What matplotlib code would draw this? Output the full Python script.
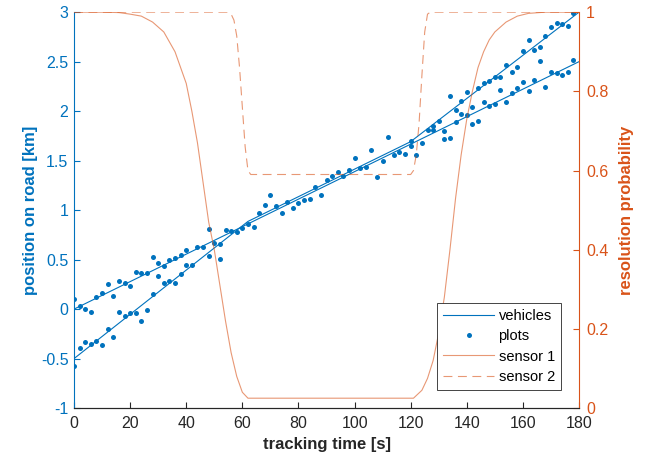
import matplotlib
matplotlib.use("Agg")
import matplotlib.pyplot as plt
import numpy as np

plt.rcParams['font.family'] = ['Liberation Sans', 'DejaVu Sans']

BLUE = '#0072BD'
ORANGE = '#D95319'
GREY = '#262626'

# vehicle tracks (km)
veh1_t = [0, 180]
veh1_y = [0.0, 2.5]
veh2_t = [0, 62, 120, 180]
veh2_y = [-0.5, 0.886, 1.692, 3.0]

# sensor plots (measurements)
plot_t = [0, 0, 2, 2, 4, 4, 6, 6, 8, 8, 10, 10, 12, 12, 14, 14, 16, 16, 18, 18,
          20, 20, 22, 22, 24, 24, 26, 26, 28, 28, 30, 30, 32, 32, 34, 34, 36, 36,
          38, 38, 40, 40, 42, 44, 46, 48, 48, 50, 52, 52, 54, 56, 58, 60, 62, 64,
          66, 68, 70, 72, 74, 76, 78, 80, 82, 84, 86, 88, 90, 92, 94, 96, 98, 100,
          102, 104, 106, 108, 110, 112, 114, 116, 118, 120, 120, 122, 124, 126,
          128, 128, 130, 132, 132, 134, 134, 136, 136, 138, 138, 140, 140, 142, 142,
          144, 144, 146, 146, 148, 148, 150, 150, 152, 152, 154, 154, 156, 156,
          158, 158, 160, 160, 162, 162, 164, 164, 166, 166, 168, 168, 170, 170,
          172, 172, 174, 174, 176, 176, 178, 178]
plot_y = [0.10, -0.57, 0.03, -0.39, 0.00, -0.33, -0.03, -0.35, 0.12, -0.32,
          0.16, -0.36, 0.25, -0.20, 0.135, -0.28, 0.28, -0.03, 0.26, -0.07,
          0.23, -0.04, 0.37, -0.04, 0.36, -0.12, 0.36, -0.01, 0.53, 0.15,
          0.47, 0.33, 0.44, 0.26, 0.50, 0.28, 0.52, 0.26, 0.55, 0.35, 0.60, 0.45,
          0.45, 0.63, 0.63, 0.81, 0.54, 0.67, 0.66, 0.51, 0.80, 0.79, 0.78, 0.82,
          0.86, 0.83, 0.97, 1.05, 1.15, 1.04, 0.97, 1.08, 1.02, 1.07, 1.10, 1.11,
          1.23, 1.15, 1.30, 1.34, 1.39, 1.34, 1.41, 1.53, 1.43, 1.44, 1.61, 1.33,
          1.50, 1.74, 1.56, 1.59, 1.57, 1.70, 1.65, 1.56, 1.68, 1.81,
          1.85, 1.81, 1.90, 1.80, 1.72, 2.15, 1.73, 2.01, 1.89, 2.10, 1.97,
          2.19, 1.96, 2.04, 1.87, 2.23, 1.90, 2.28, 2.09, 2.30, 2.05, 2.34, 2.07,
          2.34, 2.21, 2.47, 2.09, 2.40, 2.18, 2.45, 2.23, 2.61, 2.29, 2.72, 2.20,
          2.62, 2.31, 2.65, 2.51, 2.76, 2.24, 2.85, 2.40, 2.89, 2.39, 2.88, 2.37,
          2.86, 2.40, 2.99, 2.52]

# resolution probabilities
s1_t = [0, 10, 16, 20, 24, 28, 32, 36, 40, 42, 44, 46, 48, 50, 52, 54, 56, 58,
        60, 62, 121, 124, 126, 128, 130, 132, 134, 136, 138, 140, 142, 144, 146,
        148, 150, 154, 158, 162, 168, 180]
s1_p = [1.0, 1.0, 0.999, 0.995, 0.99, 0.975, 0.95, 0.90, 0.82, 0.75, 0.67,
        0.57, 0.47, 0.40, 0.31, 0.22, 0.14, 0.08, 0.04, 0.025, 0.025, 0.045,
        0.075, 0.12, 0.19, 0.28, 0.40, 0.53, 0.64, 0.73, 0.80, 0.86, 0.90,
        0.93, 0.95, 0.975, 0.99, 0.997, 1.0, 1.0]
s2_t = [0, 55, 56, 57, 58, 59, 60, 61, 62, 63, 120, 121, 122, 123, 124, 125,
        126, 127, 180]
s2_p = [1.0, 1.0, 0.995, 0.98, 0.94, 0.86, 0.76, 0.66, 0.60, 0.59, 0.59, 0.60,
        0.64, 0.72, 0.84, 0.95, 0.995, 1.0, 1.0]

fig = plt.figure(figsize=(6.51, 4.68), dpi=100)
ax = fig.add_axes([0.1137, 0.128, 0.7757, 0.846])
ax2 = ax.twinx()

h1, = ax.plot(veh1_t, veh1_y, color=BLUE, lw=0.8, label='vehicles')
ax.plot(veh2_t, veh2_y, color=BLUE, lw=0.8)
h2, = ax.plot(plot_t, plot_y, 'o', color=BLUE, ms=3.6, mew=0, label='plots')

h3, = ax2.plot(s1_t, s1_p, color=ORANGE, lw=0.8, alpha=0.6, label='sensor 1')
h4, = ax2.plot(s2_t, s2_p, color=ORANGE, lw=0.8, alpha=0.6, dashes=(8, 5),
               label='sensor 2')

ax.set_xlim(0, 180)
ax.set_ylim(-1, 3)
ax2.set_ylim(0, 1)
ax.set_xticks(np.arange(0, 181, 20))
ax.set_yticks(np.arange(-1, 3.01, 0.5))
ax.set_yticklabels(['-1', '-0.5', '0', '0.5', '1', '1.5', '2', '2.5', '3'])
ax2.set_yticks(np.arange(0, 1.01, 0.2))
ax2.set_yticklabels(['0', '0.2', '0.4', '0.6', '0.8', '1'])

ax.tick_params(axis='x', direction='in', length=4, colors=GREY, labelsize=11.5, pad=6)
ax.tick_params(axis='y', direction='in', length=4, colors=BLUE, labelsize=11.5, pad=4)
ax2.tick_params(axis='y', direction='in', length=4, colors=ORANGE, labelsize=11.5, pad=5)

for a in (ax, ax2):
    a.spines['top'].set_visible(False)
    a.spines['bottom'].set_color(GREY)
ax.spines['left'].set_color(BLUE)
ax.spines['right'].set_visible(False)
ax2.spines['left'].set_visible(False)
ax2.spines['right'].set_color(ORANGE)

ax.set_xlabel('tracking time [s]', fontsize=12, fontweight='bold', color=GREY)
ax.set_ylabel('position on road [km]', fontsize=12, fontweight='bold', color=BLUE,
              labelpad=2)
ax2.set_ylabel('resolution probability', fontsize=12, fontweight='bold', color=ORANGE,
               labelpad=8)

leg = ax2.legend([h1, h2, h3, h4], ['vehicles', 'plots', 'sensor 1', 'sensor 2'],
                 loc='lower right', bbox_to_anchor=(0.965, 0.045), fontsize=10.5,
                 fancybox=False, edgecolor=GREY, framealpha=1, handlelength=3.5,
                 borderpad=0.45, labelspacing=0.42, handletextpad=0.3, borderaxespad=0)
leg.get_frame().set_linewidth(0.6)

fig.savefig('out.png', dpi=100, facecolor='white')
